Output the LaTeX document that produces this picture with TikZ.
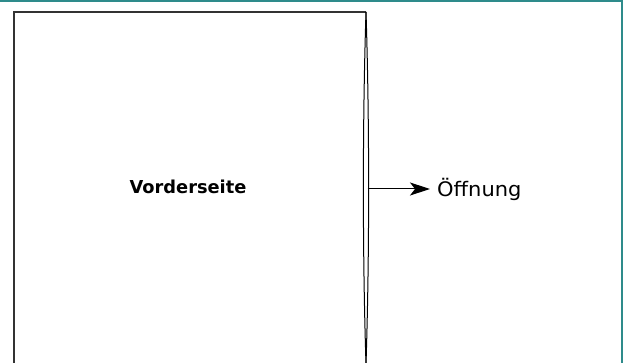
\documentclass[tikz,border=0pt]{standalone}
\usepackage{fontspec}
\setmainfont{DejaVu Sans}
\usetikzlibrary{arrows.meta,positioning}
\definecolor{framecol}{HTML}{2E8B8B}
\definecolor{edgecol}{HTML}{333333}

\begin{document}
\begin{tikzpicture}[x=1pt,y=-1pt]
	\tikzstyle{every node}=[font=\fontsize{20}{24}\selectfont]
	\useasboundingbox (0,0) rectangle (625,363);
	% teal frame, top and right only
	\draw [line width=2pt, framecol] (0,1) -- (622,1) -- (622,363);
	% sheet
	\draw [line width=1.6pt, edgecol] (14,364) -- (14,12) -- (366,12);
	% opening at the right edge
	\draw [line width=1pt] (366,12) .. controls (362.5,120) and (362.5,256) .. (366,364);
	\draw [line width=1pt] (366,12) .. controls (369.5,120) and (369.5,256) .. (366,364);
	\coordinate (lensmid) at (367.5,189);
	\node [font=\fontsize{17.8}{21}\selectfont\bfseries] (front) at (188,187) {Vorderseite};
	\node [anchor=west, inner sep=0pt, xscale=1.05] (opening) at (437,189) {Öffnung};
	\draw [line width=1pt, -{Stealth[length=20pt,width=13pt,inset=5pt]}] (lensmid) -- ([xshift=-7pt]opening.west);
\end{tikzpicture}
\end{document}
